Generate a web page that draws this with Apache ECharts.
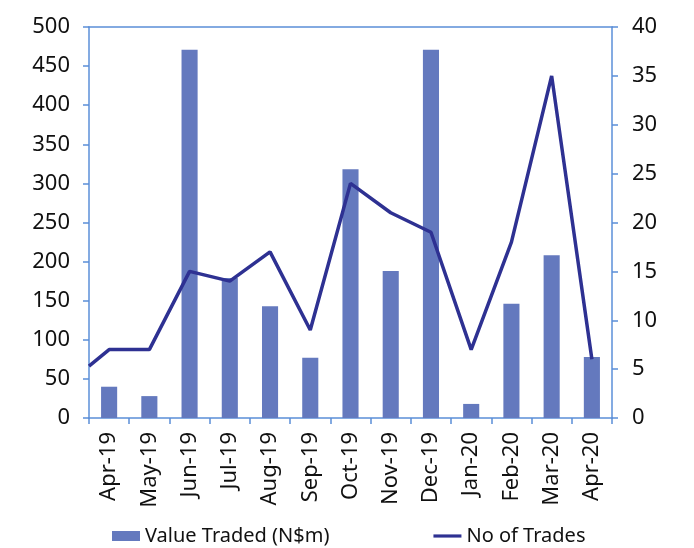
<!DOCTYPE html>
<html>
<head>
<meta charset="utf-8">
<script src="https://cdn.jsdelivr.net/npm/echarts@6/dist/echarts.min.js"></script>
<style>
    html, body { margin: 0; padding: 0; background: #fff; }
    #trades_chart { width: 694px; height: 548px; }
</style>
</head>
<body>
<div id="trades_chart"></div>
<script>
// chart values
let months = ['Apr-19', 'May-19', 'Jun-19', 'Jul-19', 'Aug-19', 'Sep-19', 'Oct-19',
              'Nov-19', 'Dec-19', 'Jan-20', 'Feb-20', 'Mar-20', 'Apr-20'];
let valueTraded = [40, 28, 471, 179, 143, 77, 318, 188, 471, 18, 146, 208, 78];
let noOfTrades = [7, 7, 15, 14, 17, 9, 24, 21, 19, 7, 18, 35, 6];
// the trades line enters from the left edge of the plot at this value
let tradesLeadIn = 5.3;
let leftTicks = [0, 500, 50];
let rightTicks = [0, 40, 5];

let axisColor = '#5b8fd8';
let barColor = '#6479be';
let lineColor = '#2e3192';
let font = 'Noto Sans';

let myChart = echarts.init(document.getElementById('trades_chart'));

// line points sit at category centres; index -0.5 is the plot's left edge
let lineData = [[-0.5, tradesLeadIn]];
noOfTrades.forEach(function (v, i) {
    lineData.push([i, v]);
});

let labelStyle = {
    color: '#111',
    fontFamily: font,
    fontSize: 22
};
let tickStyle = { show: true, length: 6, lineStyle: { color: axisColor, width: 1.5 } };

let option = {
    animation: false,
    grid: {
        left: 89,
        right: 82,
        top: 27,
        bottom: 130
    },
    legend: {
        left: 107,
        top: 521,
        itemGap: 104,
        itemWidth: 28,
        itemHeight: 10,
        textStyle: {
            color: '#111',
            fontFamily: font,
            fontSize: 20
        },
        data: [
            { name: 'Value Traded (N$m)', icon: 'rect' },
            // thin bar inside a 30x10 box so it is not stretched
            { name: 'No of Trades', icon: 'path://M0,0 M30,10 M0,3.3 L30,3.3 L30,6.7 L0,6.7 Z' }
        ]
    },
    xAxis: [
        {
            type: 'category',
            data: months,
            boundaryGap: true,
            axisLine: { onZero: false, lineStyle: { color: axisColor, width: 1.5 } },
            axisTick: tickStyle,
            axisLabel: Object.assign({ rotate: 90, margin: 14, interval: 0 }, labelStyle)
        },
        {
            // hidden value axis for the line, also draws the top border
            type: 'value',
            position: 'top',
            min: -0.5,
            max: months.length - 0.5,
            axisLine: { show: true, onZero: false, lineStyle: { color: axisColor, width: 1.5 } },
            axisTick: { show: false },
            axisLabel: { show: false },
            splitLine: { show: false }
        }
    ],
    yAxis: [
        {
            type: 'value',
            position: 'left',
            min: leftTicks[0],
            max: leftTicks[1],
            interval: leftTicks[2],
            axisLine: { show: true, onZero: false, lineStyle: { color: axisColor, width: 1.5 } },
            axisTick: tickStyle,
            splitLine: { show: false },
            axisLabel: Object.assign({ margin: 19 }, labelStyle)
        },
        {
            type: 'value',
            position: 'right',
            min: rightTicks[0],
            max: rightTicks[1],
            interval: rightTicks[2],
            axisLine: { show: true, onZero: false, lineStyle: { color: axisColor, width: 1.5 } },
            axisTick: tickStyle,
            splitLine: { show: false },
            axisLabel: Object.assign({ margin: 20 }, labelStyle)
        }
    ],
    series: [
        {
            name: 'Value Traded (N$m)',
            type: 'bar',
            xAxisIndex: 0,
            yAxisIndex: 0,
            barWidth: '40%',
            itemStyle: { color: barColor },
            data: valueTraded
        },
        {
            name: 'No of Trades',
            type: 'line',
            xAxisIndex: 1,
            yAxisIndex: 1,
            symbol: 'none',
            lineStyle: { color: lineColor, width: 3.5 },
            itemStyle: { color: lineColor },
            z: 3,
            data: lineData
        }
    ]
};
myChart.setOption(option);

window.addEventListener('resize', function () {
    myChart.resize();
});
</script>
</body>
</html>
